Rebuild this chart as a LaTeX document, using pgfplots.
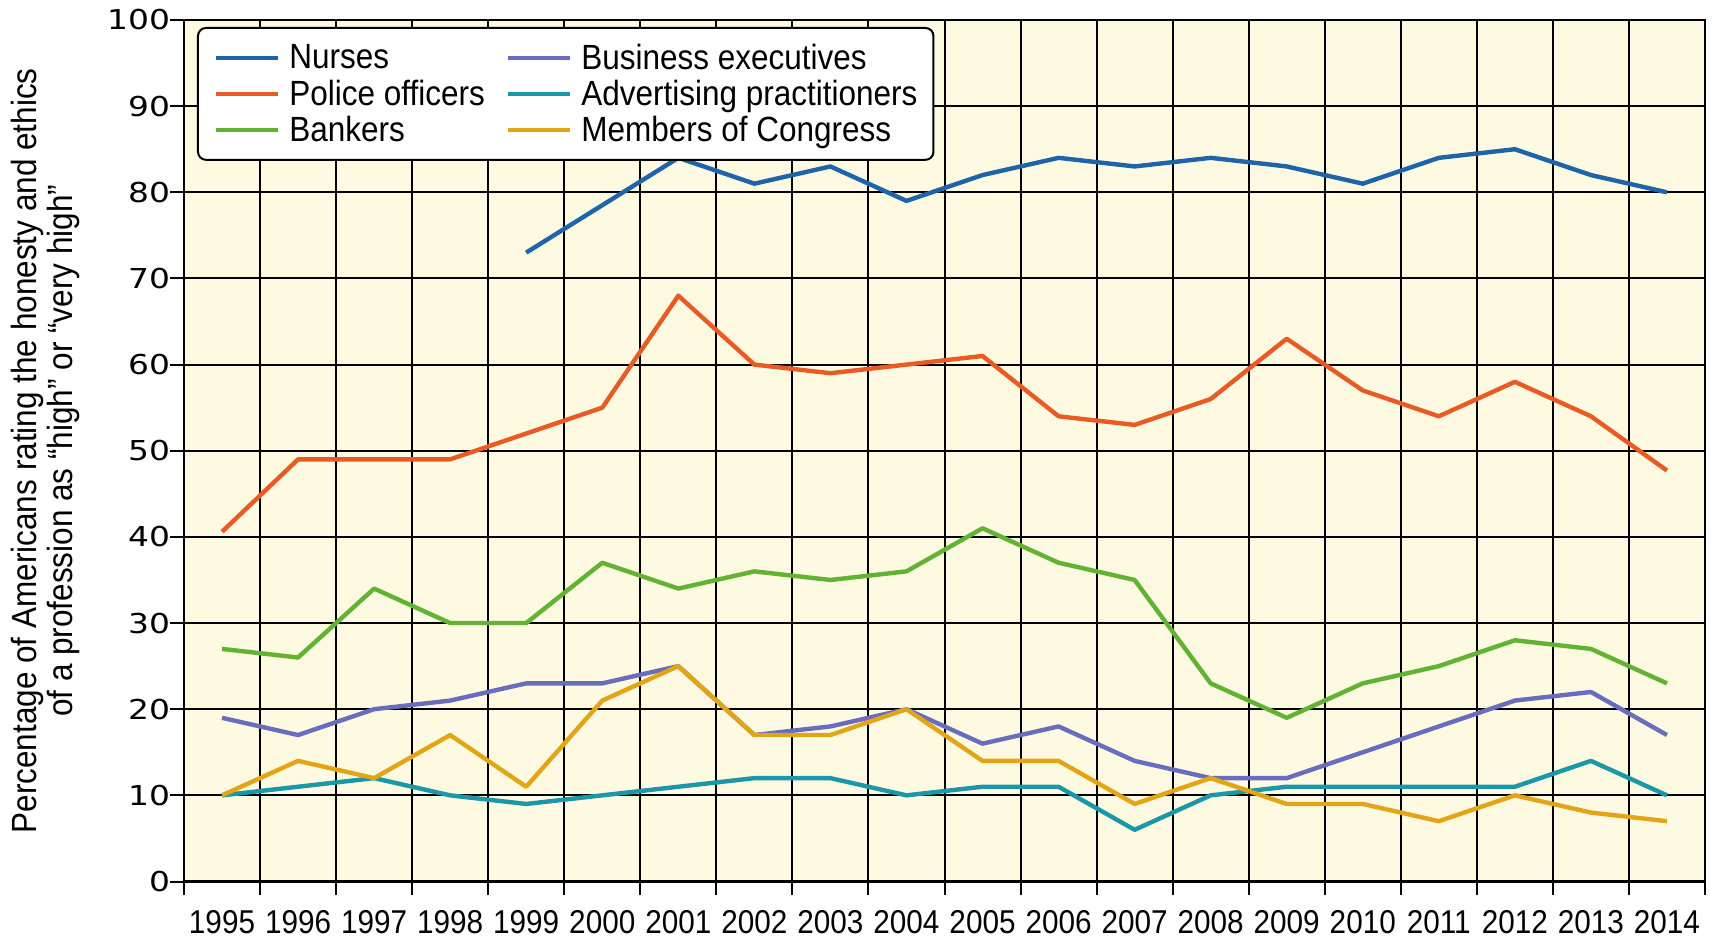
\documentclass[border=0pt]{standalone}
\usepackage{fontspec}
\setmainfont{Liberation Sans}[FakeStretch=0.9]
\newfontfamily\tickfont{DejaVu Sans}[FakeStretch=1.2]
\usepackage{pgfplots}
\pgfplotsset{compat=1.18}
\definecolor{cnurse}{RGB}{31,99,168}
\definecolor{cpolice}{RGB}{232,91,37}
\definecolor{cbank}{RGB}{98,178,51}
\definecolor{cbus}{RGB}{106,109,190}
\definecolor{cadv}{RGB}{26,152,167}
\definecolor{ccong}{RGB}{226,165,22}
\definecolor{cbg}{RGB}{254,250,226}
\begin{document}
\begin{tikzpicture}
\useasboundingbox (-92bp,-29.25bp) rectangle (766.5bp,440.75bp);
\begin{axis}[
  scale only axis, width=760.5bp, height=430.75bp,
  xmin=1994.5, xmax=2014.5, ymin=0, ymax=100,
  axis background/.style={fill=cbg},
  xtick={1994.5,1995.5,...,2014.5}, xticklabels={},
  extra x ticks={1995,1996,...,2014},
  extra x tick labels={1995,1996,1997,1998,1999,2000,2001,2002,2003,2004,2005,2006,2007,2008,2009,2010,2011,2012,2013,2014},
  extra x tick style={major tick length=0pt, grid=none},
  xticklabel style={font=\fontsize{16.5bp}{17bp}\selectfont, yshift=-11.2bp},
  ytick={0,10,...,100},
  /pgf/number format/assume math mode=true,
  yticklabel style={font=\tickfont\fontsize{13.7bp}{14bp}\selectfont, xshift=3.5bp},
  xmajorgrids, ymajorgrids,
  grid style={black, line width=1bp},
  axis line style={line width=1.1bp},
  tick align=outside, major tick length=7bp,
  tick style={black, line width=1bp},
  xtick pos=bottom, ytick pos=left,
  ylabel={Percentage of Americans rating the honesty and ethics\\of a profession as “high” or “very high”},
  ylabel style={align=center, font=\fontsize{17.5bp}{18bp}\selectfont, at={(axis description cs:-0.0909,0.5)}, anchor=center},
  legend columns=2,
  legend style={at={(rel axis cs:0.00855,0.9919)}, anchor=north west, draw=black, line width=1bp, rounded corners=4bp, fill=white,
    font=\fontsize{17.5bp}{19bp}\selectfont, inner xsep=8bp, inner ysep=6bp,
    nodes={inner xsep=0bp, inner ysep=1.9bp}, column sep=4.5bp,
    /tikz/every even column/.append style={column sep=10.5bp}},
  legend cell align=left,
  legend image code/.code={\draw[#1] (0bp,0bp) -- (31bp,0bp);},
  every axis plot/.append style={line width=2.2bp, line join=round},
]
\addplot[cnurse] coordinates {(1999,73) (2000,78.5) (2001,84) (2002,81) (2003,83) (2004,79) (2005,82) (2006,84) (2007,83) (2008,84) (2009,83) (2010,81) (2011,84) (2012,85) (2013,82) (2014,80)};
\addlegendentry{Nurses}
\addplot[cbus] coordinates {(1995,19) (1996,17) (1997,20) (1998,21) (1999,23) (2000,23) (2001,25) (2002,17) (2003,18) (2004,20) (2005,16) (2006,18) (2007,14) (2008,12) (2009,12) (2010,15) (2011,18) (2012,21) (2013,22) (2014,17)};
\addlegendentry{Business executives}
\addplot[cpolice] coordinates {(1995,40.6) (1996,49) (1997,49) (1998,49) (1999,52) (2000,55) (2001,68) (2002,60) (2003,59) (2004,60) (2005,61) (2006,54) (2007,53) (2008,56) (2009,63) (2010,57) (2011,54) (2012,58) (2013,54) (2014,47.7)};
\addlegendentry{Police officers}
\addplot[cadv] coordinates {(1995,10) (1996,11) (1997,12) (1998,10) (1999,9) (2000,10) (2001,11) (2002,12) (2003,12) (2004,10) (2005,11) (2006,11) (2007,6) (2008,10) (2009,11) (2010,11) (2011,11) (2012,11) (2013,14) (2014,10)};
\addlegendentry{Advertising practitioners}
\addplot[cbank] coordinates {(1995,27) (1996,26) (1997,34) (1998,30) (1999,30) (2000,37) (2001,34) (2002,36) (2003,35) (2004,36) (2005,41) (2006,37) (2007,35) (2008,23) (2009,19) (2010,23) (2011,25) (2012,28) (2013,27) (2014,23)};
\addlegendentry{Bankers}
\addplot[ccong] coordinates {(1995,10) (1996,14) (1997,12) (1998,17) (1999,11) (2000,21) (2001,25) (2002,17) (2003,17) (2004,20) (2005,14) (2006,14) (2007,9) (2008,12) (2009,9) (2010,9) (2011,7) (2012,10) (2013,8) (2014,7)};
\addlegendentry{Members of Congress}
\end{axis}
\end{tikzpicture}
\end{document}
